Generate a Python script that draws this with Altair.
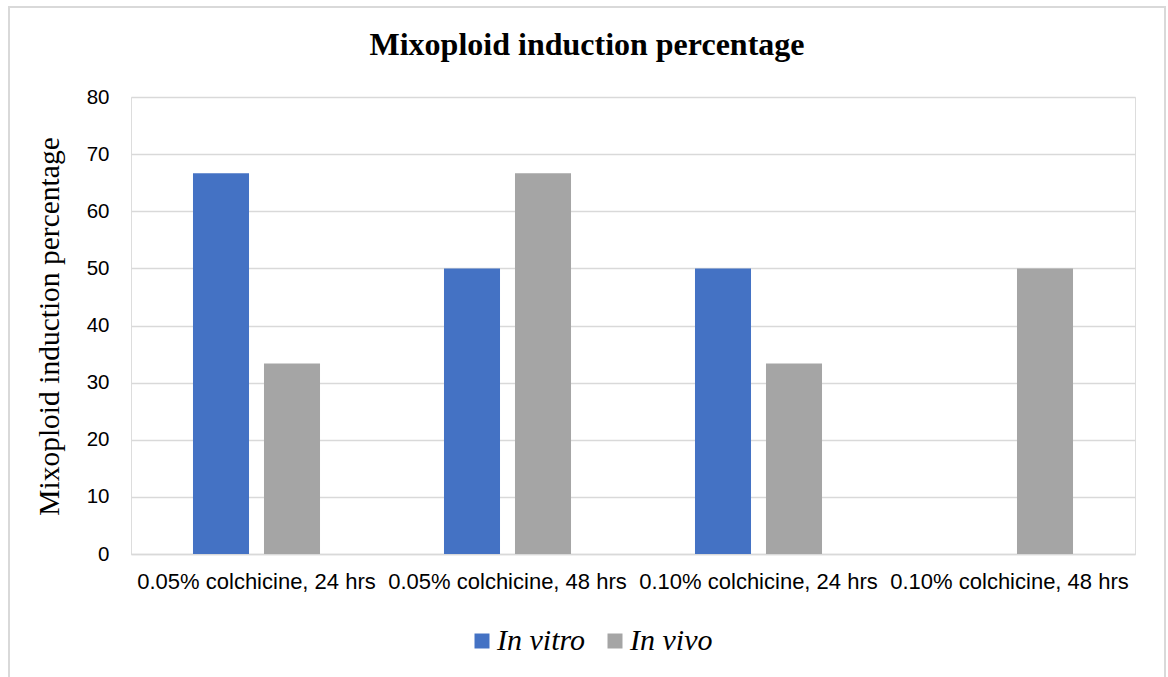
import altair as alt
import pandas as pd

categories = ["0.05% colchicine, 24 hrs", "0.05% colchicine, 48 hrs",
              "0.10% colchicine, 24 hrs", "0.10% colchicine, 48 hrs"]
series_names = ["In vitro", "In vivo"]
in_vitro = [66.67, 50, 50, 0]
in_vivo = [33.33, 66.67, 33.33, 50]
colors = ["#4472C4", "#A5A5A5"]

rows = []
for c, a, b in zip(categories, in_vitro, in_vivo):
    rows.append({"cat": c, "series": series_names[0], "value": a})
    rows.append({"cat": c, "series": series_names[1], "value": b})
df = pd.DataFrame(rows)

sans = "Liberation Sans"
serif = "Liberation Serif"

bars = alt.Chart(df).mark_bar().encode(
    x=alt.X("cat:N", sort=categories,
            scale=alt.Scale(paddingInner=0, paddingOuter=0),
            axis=alt.Axis(title=None, labelAngle=0, labelFont=sans, labelFontSize=22,
                          labelColor="#000000", labelPadding=17, labelLimit=400, ticks=False,
                          domainColor="#d9d9d9", domainWidth=1.5, grid=False)),
    xOffset=alt.XOffset("series:N", sort=series_names,
                        scale=alt.Scale(paddingInner=0.211, paddingOuter=0.873)),
    y=alt.Y("value:Q", scale=alt.Scale(domain=[0, 80]),
            axis=alt.Axis(values=list(range(0, 81, 10)), title="Mixoploid induction percentage",
                          titleFont=serif, titleFontSize=29.5, titleFontWeight="normal",
                          titleColor="#000000", titleAngle=-90, titleX=-82, titleY=229,
                          titleAlign="center", titleBaseline="middle",
                          labelFont=sans, labelFontSize=20.5, labelColor="#000000",
                          labelPadding=22, ticks=False, domain=False,
                          gridColor="#d9d9d9", gridWidth=1.5)),
    color=alt.Color("series:N", sort=series_names,
                    scale=alt.Scale(domain=series_names, range=colors),
                    legend=alt.Legend(title=None, orient="none", legendX=336, legendY=529,
                                      direction="horizontal", symbolType="square",
                                      symbolSize=225, symbolStrokeWidth=0,
                                      labelFont=serif, labelFontStyle="italic",
                                      labelFontSize=30, labelColor="#000000",
                                      labelOffset=0, columnPadding=14)),
)

border = alt.Chart(pd.DataFrame({"a": [0]})).mark_rect(
    fill=None, stroke="#d9d9d9", strokeWidth=2
).encode(x=alt.value(-122), x2=alt.value(1034), y=alt.value(-90), y2=alt.value(600))

chart = alt.layer(border, bars).properties(
    width=1004, height=457,
    padding={"left": 131, "top": 97, "right": 33, "bottom": 123},
    autosize=alt.AutoSizeParams(type="none"),
    title=alt.TitleParams("Mixoploid induction percentage", font=serif, fontSize=32,
                          fontWeight="bold", color="#000000", anchor="middle",
                          dx=-46, offset=-56),
).configure_view(stroke=None).configure(background="white")

chart.save("out.html", embed_options={"renderer": "svg", "actions": False})
